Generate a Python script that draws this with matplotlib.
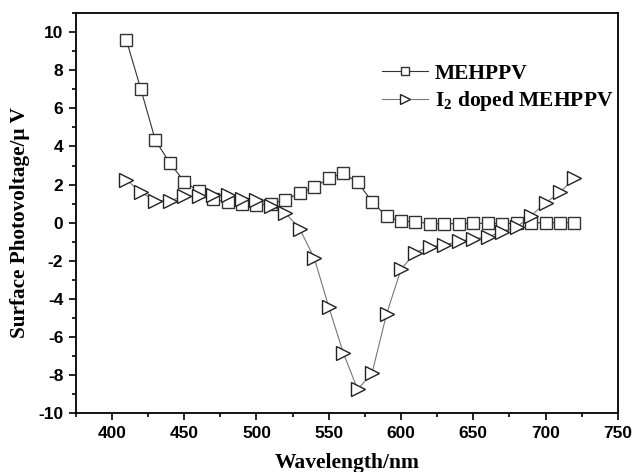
import matplotlib
matplotlib.use('Agg')
import matplotlib.pyplot as plt
import numpy as np
from matplotlib.ticker import MultipleLocator

# wavelength (nm)
wavelength = [410, 420, 430, 440, 450, 460, 470, 480, 490, 500, 510, 520, 530, 540, 550, 560,
              570, 580, 590, 600, 610, 620, 630, 640, 650, 660, 670, 680, 690, 700, 710, 720]

# surface photovoltage (uV)
mehppv = [9.57, 7.0, 4.33, 3.14, 2.16, 1.65, 1.25, 1.09, 1.0, 0.91, 0.98, 1.21, 1.56, 1.86, 2.33, 2.6,
          2.12, 1.11, 0.33, 0.07, 0.06, -0.05, -0.05, -0.05, -0.03, -0.03, -0.05, -0.02, 0.0, 0.0, 0.0, 0.0]
doped = [2.26, 1.6, 1.16, 1.16, 1.39, 1.42, 1.47, 1.47, 1.26, 1.21, 0.89, 0.51, -0.33, -1.86, -4.41, -6.81,
         -8.74, -7.87, -4.79, -2.44, -1.56, -1.25, -1.16, -0.98, -0.84, -0.75, -0.46, -0.23, 0.37, 1.04, 1.6, 2.35]

serif = 'Liberation Serif'
sans = 'Liberation Sans'

plt.rcParams['axes.unicode_minus'] = False
plt.rcParams['mathtext.fontset'] = 'custom'
plt.rcParams['mathtext.rm'] = 'Liberation Serif:bold'
plt.rcParams['mathtext.bf'] = 'Liberation Serif:bold'

fig = plt.figure(figsize=(6.32, 4.72), dpi=100)
ax = fig.add_axes([0.120, 0.124, 0.8575, 0.8485])

ax.plot(wavelength, mehppv, color='#333333', lw=0.8, marker='s', ms=8.5,
        mfc='white', mec='#333333', mew=1.0, label='MEHPPV')
ax.plot(wavelength, doped, color='#777777', lw=0.8, marker='>', ms=10.5,
        mfc='white', mec='#222222', mew=1.0, label='I$_\\mathbf{2}$ doped MEHPPV')

ax.set_xlim(375, 750)
ax.set_ylim(-10, 11)
ax.xaxis.set_major_locator(MultipleLocator(50))
ax.xaxis.set_minor_locator(MultipleLocator(25))
ax.yaxis.set_major_locator(MultipleLocator(2))
ax.yaxis.set_minor_locator(MultipleLocator(1))
ax.tick_params(which='both', direction='out', width=1.2, top=False, right=False)
ax.tick_params(which='major', length=5, pad=4)
ax.tick_params(which='minor', length=3)
for lbl in ax.get_xticklabels() + ax.get_yticklabels():
    lbl.set_fontfamily(sans)
    lbl.set_fontweight('bold')
    lbl.set_fontsize(12.5)
for s in ax.spines.values():
    s.set_linewidth(1.3)

ax.set_xlabel('Wavelength/nm', fontfamily=serif, fontweight='bold', fontsize=15.5, labelpad=9)
ax.set_ylabel('Surface Photovoltage/\u03bc V', fontfamily=serif, fontweight='bold', fontsize=15.3, labelpad=6)
ax.yaxis.label.set_y(0.476)

leg = ax.legend(loc='upper left', bbox_to_anchor=(0.53, 0.922), frameon=False,
                prop={'family': serif, 'weight': 'bold', 'size': 15.5},
                handlelength=2.1, handletextpad=0.35, labelspacing=0.25, markerscale=0.75)

fig.savefig('out.png', dpi=100)
